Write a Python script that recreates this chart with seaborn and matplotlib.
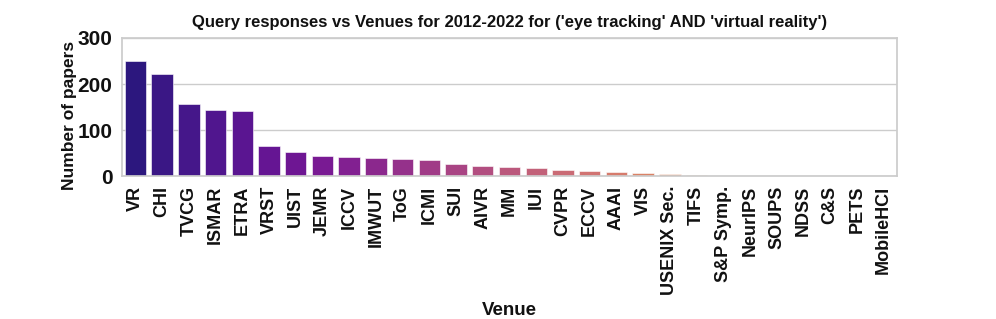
import matplotlib
matplotlib.use('Agg')
import matplotlib.pyplot as plt
import seaborn as sns
import pandas as pd

venues = ['VR', 'CHI', 'TVCG', 'ISMAR', 'ETRA', 'VRST', 'UIST', 'JEMR', 'ICCV',
          'IMWUT', 'ToG', 'ICMI', 'SUI', 'AIVR', 'MM', 'IUI', 'CVPR', 'ECCV',
          'AAAI', 'VIS', 'USENIX Sec.', 'TIFS', 'S&P Symp.', 'NeurIPS', 'SOUPS',
          'NDSS', 'C&S', 'PETS', 'MobileHCI']
papers = [250, 222, 157, 143, 141, 65, 52, 43, 41,
          40, 37, 36, 27, 22, 20, 17, 13, 11,
          8, 6, 4, 3, 0, 0, 0,
          0, 0, 0, 0]

df = pd.DataFrame({'Venue': venues, 'Number of papers': papers})

sns.set_theme(style='whitegrid')
plt.rcParams['font.family'] = ['Liberation Sans', 'DejaVu Sans']
plt.rcParams['font.weight'] = 'bold'
plt.rcParams['text.color'] = '#111111'
plt.rcParams['axes.labelcolor'] = '#111111'
plt.rcParams['xtick.color'] = '#111111'
plt.rcParams['ytick.color'] = '#111111'

fig, ax = plt.subplots(figsize=(9.96, 3.19), dpi=100)
fig.subplots_adjust(left=0.1225, right=0.9006, top=0.881, bottom=0.448)

sns.barplot(data=df, x='Venue', y='Number of papers', hue='Venue',
            palette='plasma', legend=False, ax=ax,
            edgecolor='white', linewidth=0.4)

ax.set_ylim(0, 300)
ax.set_yticks([0, 100, 200, 300])
ax.set_title("Query responses vs Venues for 2012-2022 for ('eye tracking' AND 'virtual reality')",
             fontsize=12, fontweight='bold', pad=8)
ax.set_xlabel('Venue', fontsize=13.5, fontweight='bold', labelpad=5)
ax.set_ylabel('Number of papers', fontsize=12.5, fontweight='bold')
ax.yaxis.set_label_coords(-0.058, 0.44)
ax.tick_params(axis='x', labelsize=13, rotation=90, pad=1)
ax.tick_params(axis='y', labelsize=15, pad=1)
for lbl in ax.get_xticklabels() + ax.get_yticklabels():
    lbl.set_fontweight('bold')

fig.savefig('out.png', dpi=100)
